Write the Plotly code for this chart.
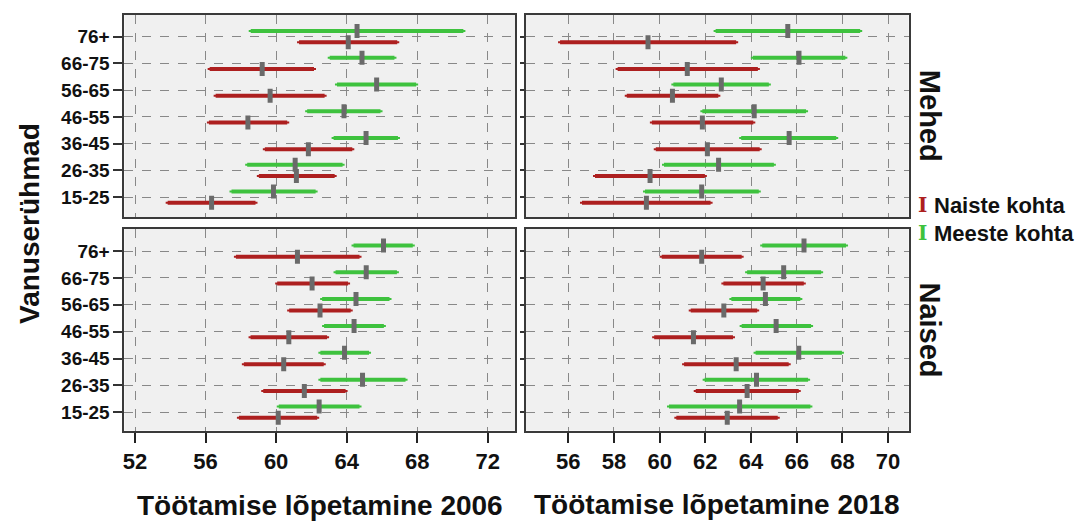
import plotly.graph_objects as go

age_groups = ["15-25", "26-35", "36-45", "46-55", "56-65", "66-75", "76+"]
x_ticks_2006 = [52, 56, 60, 64, 68, 72]
x_ticks_2018 = [56, 58, 60, 62, 64, 66, 68, 70]

# 2006, Mehed
m06_women_lo = [53.85, 59.02, 59.36, 56.19, 56.57, 56.23, 61.30]
m06_women_mean = [56.34, 61.15, 61.83, 58.40, 59.66, 59.21, 64.09]
m06_women_hi = [58.83, 63.32, 64.32, 60.63, 62.75, 62.15, 66.87]
m06_men_lo = [57.47, 58.36, 63.26, 61.76, 63.45, 63.04, 58.56]
m06_men_mean = [59.85, 61.08, 65.10, 63.85, 65.70, 64.87, 64.59]
m06_men_hi = [62.24, 63.77, 66.91, 65.92, 67.94, 66.71, 70.62]

# 2018, Mehed
m18_women_lo = [56.60, 57.17, 59.83, 59.66, 58.56, 58.16, 55.64]
m18_women_mean = [59.42, 59.58, 62.09, 61.87, 60.56, 61.21, 59.49]
m18_women_hi = [62.23, 61.98, 64.38, 64.10, 62.57, 64.30, 63.35]
m18_men_lo = [59.36, 60.19, 63.57, 61.87, 60.60, 64.08, 62.45]
m18_men_mean = [61.84, 62.58, 65.67, 64.14, 62.70, 66.10, 65.61]
m18_men_hi = [64.34, 65.00, 67.73, 66.41, 64.78, 68.13, 68.78]

# 2006, Naised
n06_women_lo = [57.89, 59.27, 58.17, 58.55, 60.74, 60.06, 57.72]
n06_women_mean = [60.12, 61.60, 60.43, 60.72, 62.49, 62.04, 61.21]
n06_women_hi = [62.33, 63.94, 62.70, 62.89, 64.23, 64.08, 64.73]
n06_men_lo = [60.15, 62.51, 62.51, 62.72, 62.61, 63.37, 64.39]
n06_men_mean = [62.44, 64.90, 63.88, 64.42, 64.53, 65.11, 66.09]
n06_men_hi = [64.73, 67.34, 65.27, 66.11, 66.43, 66.85, 67.75]

# 2018, Naised
n18_women_lo = [60.73, 61.58, 61.07, 59.76, 61.36, 62.79, 60.09]
n18_women_mean = [62.96, 63.83, 63.35, 61.48, 62.81, 64.53, 61.84]
n18_women_hi = [65.17, 66.09, 65.65, 63.21, 64.27, 66.31, 63.59]
n18_men_lo = [60.41, 61.97, 64.20, 63.59, 63.14, 63.83, 64.49]
n18_men_mean = [63.50, 64.24, 66.09, 65.10, 64.63, 65.43, 66.32]
n18_men_hi = [66.60, 66.50, 67.98, 66.63, 66.16, 67.07, 68.16]

RED = "#ad1f1f"
GREEN = "#3ec23e"
FONT = "Liberation Sans, Arial, sans-serif"

fig = go.Figure()
ypos = list(range(len(age_groups)))

def add_series(lo, mean, hi, color, offset, xa, ya):
    ys = [y + offset for y in ypos]
    fig.add_trace(go.Scatter(
        x=mean, y=ys, mode="markers", xaxis=xa, yaxis=ya, showlegend=False,
        marker=dict(symbol="line-ns", size=10, color="#6a6a6a",
                    line=dict(width=5, color="#6a6a6a")),
        error_x=dict(type="data", symmetric=False,
                     array=[h - m for h, m in zip(hi, mean)],
                     arrayminus=[m - l for m, l in zip(mean, lo)],
                     color=color, thickness=4, width=1),
        hoverinfo="skip"))

add_series(m06_women_lo, m06_women_mean, m06_women_hi, RED, -0.21, "x", "y")
add_series(m06_men_lo, m06_men_mean, m06_men_hi, GREEN, 0.21, "x", "y")
add_series(m18_women_lo, m18_women_mean, m18_women_hi, RED, -0.21, "x2", "y2")
add_series(m18_men_lo, m18_men_mean, m18_men_hi, GREEN, 0.21, "x2", "y2")
add_series(n06_women_lo, n06_women_mean, n06_women_hi, RED, -0.21, "x3", "y3")
add_series(n06_men_lo, n06_men_mean, n06_men_hi, GREEN, 0.21, "x3", "y3")
add_series(n18_women_lo, n18_women_mean, n18_women_hi, RED, -0.21, "x4", "y4")
add_series(n18_men_lo, n18_men_mean, n18_men_hi, GREEN, 0.21, "x4", "y4")

W, H = 1082, 521
dl = [122.7 / W, 514 / W]
dr = [525 / W, 908.3 / W]
dt = [1 - 217.3 / H, 1 - 15 / H]
db = [1 - 430.5 / H, 1 - 229 / H]

grid = dict(showgrid=True, gridcolor="#888888", gridwidth=1, griddash="dash",
            showline=True, linecolor="#3a3a3a", linewidth=2, mirror=True, zeroline=False)

def xax(domain, anchor, rng, ticks, show):
    d = dict(domain=domain, anchor=anchor, range=rng, tickvals=ticks,
             ticktext=["<b>%s</b>" % t for t in ticks], **grid)
    if show:
        d.update(ticks="outside", ticklen=10, tickwidth=2, tickcolor="#222",
                 showticklabels=True,
                 tickfont=dict(family=FONT, size=22, color="#111"))
    else:
        d.update(ticks="", showticklabels=False)
    return d

def yax(domain, anchor, rng, show):
    d = dict(domain=domain, anchor=anchor, range=rng, tickvals=ypos,
             ticktext=["<b>%s</b>" % g for g in age_groups], **grid)
    d.update(ticks="outside", ticklen=9 if show else 4, tickwidth=2, tickcolor="#333",
             showticklabels=show,
             tickfont=dict(family=FONT, size=19, color="#111"))
    return d

fig.update_layout(
    width=W, height=H,
    margin=dict(l=0, r=0, t=0, b=0),
    paper_bgcolor="white", plot_bgcolor="#f0f0f0",
    showlegend=False,
    xaxis=xax(dl, "y", [51.4, 73.55], x_ticks_2006, False),
    xaxis2=xax(dr, "y2", [54.15, 70.9], x_ticks_2018, False),
    xaxis3=xax(dl, "y3", [51.4, 73.55], x_ticks_2006, True),
    xaxis4=xax(dr, "y4", [54.15, 70.9], x_ticks_2018, True),
    yaxis=yax(dt, "x", [-0.75, 6.81], True),
    yaxis2=yax(dt, "x2", [-0.75, 6.81], False),
    yaxis3=yax(db, "x3", [-0.68, 6.82], True),
    yaxis4=yax(db, "x4", [-0.68, 6.82], False),
)

ann_font = dict(family=FONT, size=28, color="#111")
fig.add_annotation(text="<b>Töötamise lõpetamine 2006</b>", x=(dl[0] + dl[1]) / 2, y=1 - 505 / H,
                   xref="paper", yref="paper", showarrow=False, font=ann_font,
                   xanchor="center", yanchor="middle")
fig.add_annotation(text="<b>Töötamise lõpetamine 2018</b>", x=(dr[0] + dr[1]) / 2, y=1 - 504 / H,
                   xref="paper", yref="paper", showarrow=False, font=ann_font,
                   xanchor="center", yanchor="middle")
fig.add_annotation(text="<b>Vanuserühmad</b>", x=27 / W, y=1 - 223 / H,
                   xref="paper", yref="paper", showarrow=False, textangle=-90,
                   font=dict(family=FONT, size=28, color="#111"),
                   xanchor="center", yanchor="middle")
fig.add_annotation(text="<b>Mehed</b>", x=930 / W, y=(dt[0] + dt[1]) / 2,
                   xref="paper", yref="paper", showarrow=False, textangle=90,
                   font=dict(family=FONT, size=29, color="#111"),
                   xanchor="center", yanchor="middle")
fig.add_annotation(text="<b>Naised</b>", x=930 / W, y=(db[0] + db[1]) / 2,
                   xref="paper", yref="paper", showarrow=False, textangle=90,
                   font=dict(family=FONT, size=29, color="#111"),
                   xanchor="center", yanchor="middle")

legend_items = [("Naiste kohta", RED, 205), ("Meeste kohta", GREEN, 233)]
for label, col, py in legend_items:
    fig.add_annotation(text="<b>I</b>", x=922 / W, y=1 - py / H, xref="paper", yref="paper",
                       showarrow=False, font=dict(family="DejaVu Serif, serif", size=20, color=col),
                       xanchor="center", yanchor="middle")
    fig.add_annotation(text="<b>%s</b>" % label, x=932 / W, y=1 - py / H, xref="paper", yref="paper",
                       showarrow=False, font=dict(family=FONT, size=22, color="#111"),
                       xanchor="left", yanchor="middle")

fig.write_html("out.html", config={"displayModeBar": False},
               post_script="document.body.style.margin='0';document.body.style.overflow='hidden';")
